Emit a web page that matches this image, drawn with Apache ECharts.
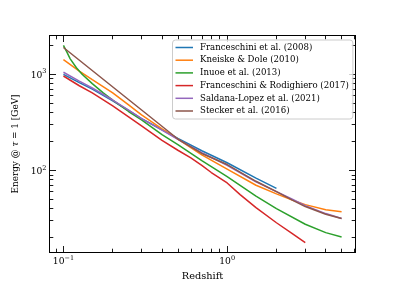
<!DOCTYPE html>
<html><head><meta charset="utf-8">
<script src="https://cdn.jsdelivr.net/npm/echarts@6/dist/echarts.min.js"></script>
<style>html,body{margin:0;padding:0;background:#fff}#c{width:396px;height:297px}</style>
</head><body><div id="c"></div>
<script>
// ---- data ----
const seriesNames = ['Franceschini et al. (2008)','Kneiske & Dole (2010)','Inuoe et al. (2013)','Franceschini & Rodighiero (2017)','Saldana-Lopez et al. (2021)','Stecker et al. (2016)'];
const seriesColors = ['#1f77b4','#ff7f0e','#2ca02c','#d62728','#9467bd','#8c564b'];

const zFranceschini08 = [0.1,0.125,0.15,0.2,0.25,0.3,0.4,0.5,0.7,1,1.5,2];
const eFranceschini08 = [1000,820,700,530,420,345,265,215,160,120,83,65];

const zKneiske = [0.1,0.125,0.15,0.2,0.25,0.3,0.4,0.5,0.7,1,1.5,2,2.5,3,4,5];
const eKneiske = [1420,1080,880,640,480,378,270,212,145,103,70,57,49,44,39,37];

const zInuoe = [0.1,0.105,0.11,0.12,0.13,0.15,0.175,0.2,0.25,0.3,0.4,0.5,0.7,1,1.5,2,3,4,5];
const eInuoe = [2000,1700,1450,1170,1000,800,640,540,410,335,235,185,126,86,54,40,27.5,22.5,20.3];

const zFranceschini17 = [0.1,0.125,0.15,0.2,0.25,0.3,0.4,0.5,0.6,0.7,0.8,1,1.2,1.5,2,2.5,3];
const eFranceschini17 = [960,760,640,470,360,290,205,162,135,113,95,74,56,41,28.5,22,17.7];

const zSaldana = [0.1,0.125,0.15,0.2,0.25,0.3,0.4,0.5,0.7,1,1.5,2,2.5,3,4,5];
const eSaldana = [1050,850,720,540,425,345,262,210,153,113,76,60,50,43,35.5,31.5];

const zStecker = [0.1,0.5,0.7,1,1.5,2,2.5,3,4,5];
const eStecker = [1900,212,150,115,77,60,49,42,35,31.5];

const xMajorTicks = [0.1, 1];
const xMinorTicks = [0.09,0.2,0.3,0.4,0.5,0.6,0.7,0.8,0.9,2,3,4,5,6];
const yMajorTicks = [100, 1000];
const yMinorTicks = [20,30,40,50,60,70,80,90,200,300,400,500,600,700,800,900,2000];
const xLimits = [0.0822, 6.08];
const yLimits = [13.97, 2535];

// ---- chart ----
const FONT = 'DejaVu Serif';
const L = v => Math.log10(v);
const zs = [zFranceschini08,zKneiske,zInuoe,zFranceschini17,zSaldana,zStecker];
const es = [eFranceschini08,eKneiske,eInuoe,eFranceschini17,eSaldana,eStecker];

function supLabel(v){ const e = Math.round(v); return '{b|10}{s|' + (e<0?'\u2212':'') + Math.abs(e) + '}'; }
const rich = {
  b:{fontSize:9.2,fontFamily:FONT,color:'#000',lineHeight:12,verticalAlign:'bottom'},
  s:{fontSize:6.5,fontFamily:FONT,color:'#000',lineHeight:8,verticalAlign:'top'}
};
const MAJ = 6.5, MIN = 3.8;
function mkAxis(dim, pos, major, showLine, showLabel, extra){
  const lim = dim==='x'? xLimits : yLimits;
  const tickVals = (major ? (dim==='x'?xMajorTicks:yMajorTicks) : (dim==='x'?xMinorTicks:yMinorTicks)).map(L);
  return Object.assign({
    type:'value', gridIndex:0, position:pos, min:L(lim[0]), max:L(lim[1]),
    splitLine:{show:false},
    axisLine:{show:showLine,onZero:false,lineStyle:{color:'#000',width:1}},
    axisTick:{show:true,inside:true,length:major?MAJ:MIN,customValues:tickVals,lineStyle:{color:'#000',width:0.9}},
    axisLabel:showLabel?{show:true,customValues:tickVals,formatter:supLabel,rich:rich,margin:dim==='x'?2:3}:{show:false}
  }, extra||{});
}
const chart = echarts.init(document.getElementById('c'), null, {renderer:'canvas'});
chart.setOption({
  animation:false,
  backgroundColor:'#fff',
  grid:{left:49.5,right:40.5,top:35.5,bottom:44.5},
  legend:{
    left:172.5, top:40, orient:'vertical', icon:'rect', itemWidth:17.5, itemHeight:1.5, itemGap:2.7,
    padding:[2.5,4,3,3], backgroundColor:'rgba(255,255,255,0.8)', borderColor:'#cccccc', borderWidth:1, borderRadius:3,
    textStyle:{fontFamily:FONT,fontSize:8.6,color:'#000',lineHeight:10,padding:[0,0,0,2]},
    data:seriesNames
  },
  xAxis:[
    mkAxis('x','bottom',true,true,true,{name:'Redshift',nameLocation:'middle',nameGap:15,nameTextStyle:{fontFamily:FONT,fontSize:9.8,color:'#000'}}),
    mkAxis('x','bottom',false,false,false),
    mkAxis('x','top',true,true,false),
    mkAxis('x','top',false,false,false)
  ],
  yAxis:[
    mkAxis('y','left',true,true,true,{name:'{n|Energy @ }{i|\u03c4}{n| = 1 [GeV]}',nameLocation:'middle',nameGap:26,
      nameTextStyle:{rich:{n:{fontFamily:FONT,fontSize:8.9,color:'#000'},i:{fontFamily:FONT,fontSize:8.9,fontStyle:'italic',color:'#000'}}}}),
    mkAxis('y','left',false,false,false),
    mkAxis('y','right',true,true,false),
    mkAxis('y','right',false,false,false)
  ],
  series: seriesNames.map((n,i)=>({
    name:n, type:'line', xAxisIndex:0, yAxisIndex:0, showSymbol:false, symbol:'none',
    color:seriesColors[i], lineStyle:{width:1.5,color:seriesColors[i]},
    data: zs[i].map((z,j)=>[L(z), L(es[i][j])]), z: 2+i
  }))
});
</script></body></html>
